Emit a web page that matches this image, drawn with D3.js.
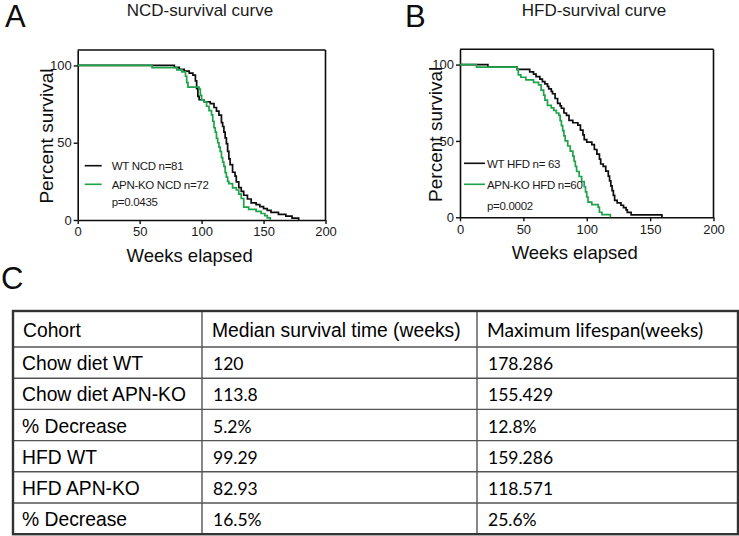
<!DOCTYPE html>
<html><head><meta charset="utf-8">
<script src="https://cdn.jsdelivr.net/npm/d3@7"></script>
<style>body{margin:0;background:#fff}svg{display:block}</style>
</head><body><svg id="c" width="739" height="536"></svg>
<script>
// ---------- data ----------
const xTicks = [0, 50, 100, 150, 200];
const yTicks = [0, 50, 100];

// Kaplan-Meier steps: [weeks, percent survival]
const ncdWT = [[0,100],[76,100],[78,98.8],[82,97.5],[86,96.3],[90,95.1],[93,93.8],[95,90],[96,85],[97,80],[98,77.8],[102,76.5],[107,75.3],[110,72.8],[112,70.4],[114,67.9],[116,63],[117,60.5],[118,56.8],[119,53.1],[120,49.4],[121,44.4],[122,39.5],[123,35.8],[125,30.9],[127,28.4],[128,24.7],[130,21],[132,18.5],[134,16],[137,13.6],[140,11.1],[144,9.9],[147,8.6],[150,7.4],[153,6.2],[156,4.9],[162,3.7],[168,2.5],[173,1.2],[178.3,0]];
const ncdKO = [[0,100],[60,98.6],[80,97.2],[84,95.8],[87,93],[88,88.9],[89,86],[98,84.7],[99,80.6],[100,77.8],[102,76.4],[104,73.6],[106,70.8],[108,68],[109,63.9],[110,59.7],[111,56.9],[112,52.8],[113,50],[114,47.2],[115,44.4],[116,40.3],[117,37.5],[118,34.7],[119,30.6],[120,27.8],[121,25],[122,23.6],[125,20.8],[128,19.4],[130,16.7],[132,13.9],[134,8.3],[138,6.9],[144,5.6],[148,4.2],[151,2.8],[153,1.4],[155.4,0]];
const hfdWT = [[0,100],[22,98.4],[45,96.8],[55,95.2],[58,93.7],[60,92.1],[63,90.5],[65,88.9],[67,87.3],[69,85.7],[70,84.1],[72,82.5],[73,80.9],[75,77.8],[77,74.6],[79,73],[80,71.4],[82,68.3],[84,66.7],[86,63.5],[89,61.9],[93,60.3],[95,57.1],[97,54],[98,50.8],[100,49.2],[104,47.6],[106,44.4],[108,41.3],[110,38.1],[111,34.9],[113,33.3],[115,30.2],[117,27],[118,23.8],[119,20.6],[120,17.5],[121,14.3],[122,11.1],[124,9.5],[127,7.9],[129,6.3],[131,4.8],[132,3.2],[135,1.6],[159.3,0]];
const hfdKO = [[0,100],[13,98.3],[45,96.7],[46,93.3],[48,91.7],[52,90],[58,88.3],[62,86.7],[64,83.3],[66,80],[67,76.7],[69,73.3],[72,71.7],[74,70],[76,68.3],[78,66.7],[79,63.3],[80,60],[81,56.7],[82,53.3],[83,50],[85,46.7],[87,43.3],[89,40],[90,36.7],[91,33.3],[92,30],[94,26.7],[96,23.3],[98,20],[99,16.7],[100,13.3],[101,10],[104,8.3],[109,6.7],[110,3.3],[112,1.7],[118.6,0]];

const panelLetters = ["A", "B", "C"];
const panelTitles = ["NCD-survival curve", "HFD-survival curve"];
const legendNCD = ["WT NCD n=81", "APN-KO NCD n=72"];
const legendHFD = ["WT HFD n= 63", "APN-KO HFD n=60"];
const pValues = ["p=0.0435", "p=0.0002"];
const xLabel = "Weeks elapsed";
const yLabel = "Percent survival";

const tableHeader = ["Cohort", "Median survival time (weeks)", "Maximum lifespan(weeks)"];
const cohorts = ["Chow diet WT", "Chow diet APN-KO", "% Decrease", "HFD WT", "HFD APN-KO", "% Decrease"];
const medianSurvival = ["120", "113.8", "5.2%", "99.29", "82.93", "16.5%"];
const maxLifespan = ["178.286", "155.429", "12.8%", "159.286", "118.571", "25.6%"];

// ---------- drawing ----------
const svg = d3.select("#c");
svg.append("rect").attr("width", 739).attr("height", 536).attr("fill", "#fff");
const SANS = "'Liberation Sans', Arial, sans-serif";
const BLACK = "#0d0d0d";
const GREEN = "#1fa34a";

const panels = [
  { letter: panelLetters[0], title: panelTitles[0], series: [ncdWT, ncdKO], legend: legendNCD, p: pValues[0],
    xr: [77.7, 325.5], yr: [220, 50], letterX: 5, titleX: 200, ylabX: 53,
    leg: { x1: 7, x2: 24, tx: 34, ly: [165.7, 184.3], ty: [170, 188.5, 205.5] } },
  { letter: panelLetters[1], title: panelTitles[1], series: [hfdWT, hfdKO], legend: legendHFD, p: pValues[1],
    xr: [460, 713.5], yr: [217.3, 49.3], letterX: 405, titleX: 594, ylabX: 442,
    leg: { x1: 4, x2: 25, tx: 27, ly: [163.3, 184.3], ty: [167.7, 188.7, 210] } }
];

panels.forEach(P => {
  const x = d3.scaleLinear().domain([0, 200]).range(P.xr);
  const y = d3.scaleLinear().domain([0, 110]).range(P.yr);
  const g = svg.append("g");

  // letter + title
  svg.append("text").attr("x", P.letterX).attr("y", 27).text(P.letter)
    .attr("font-family", SANS).attr("font-size", 31).attr("fill", BLACK);
  svg.append("text").attr("x", P.titleX).attr("y", 15.5).attr("text-anchor", "middle").text(P.title)
    .attr("font-family", SANS).attr("font-size", 17).attr("fill", "#1a1a1a");

  // axes
  const ax = g.append("g").attr("transform", `translate(0,${y(0)})`)
    .call(d3.axisBottom(x).tickValues(xTicks).tickSize(4).tickSizeOuter(0).tickPadding(3));
  const ay = g.append("g").attr("transform", `translate(${x(0)},0)`)
    .call(d3.axisLeft(y).tickValues(yTicks).tickSize(4).tickSizeOuter(0).tickPadding(2));
  [ax, ay].forEach(a => {
    a.select(".domain").attr("stroke", BLACK).attr("stroke-width", 1.6);
    a.selectAll(".tick line").attr("stroke", BLACK).attr("stroke-width", 1.4);
    a.selectAll(".tick text").attr("font-family", SANS).attr("font-size", 13).attr("fill", "#1a1a1a");
  });
  // box top/right
  g.append("line").attr("x1", x(0)).attr("x2", x(200)).attr("y1", y(110)).attr("y2", y(110))
    .attr("stroke", BLACK).attr("stroke-width", 1.6);
  g.append("line").attr("x1", x(200)).attr("x2", x(200)).attr("y1", y(0)).attr("y2", y(110))
    .attr("stroke", BLACK).attr("stroke-width", 1.6);

  // curves
  const line = d3.line().x(d => x(d[0])).y(d => y(d[1])).curve(d3.curveStepAfter);
  const colors = [BLACK, GREEN];
  P.series.forEach((s, i) => {
    g.append("path").datum(s).attr("d", line).attr("fill", "none")
      .attr("stroke", colors[i]).attr("stroke-width", 1.7);
  });

  // legend
  const L = P.leg, x0 = x(0);
  P.legend.forEach((t, i) => {
    g.append("line").attr("x1", x0 + L.x1).attr("x2", x0 + L.x2).attr("y1", L.ly[i]).attr("y2", L.ly[i])
      .attr("stroke", colors[i]).attr("stroke-width", 1.6);
    g.append("text").attr("x", x0 + L.tx).attr("y", L.ty[i]).text(t)
      .attr("font-family", SANS).attr("font-size", 11.5).attr("letter-spacing", -0.3).attr("fill", "#1a1a1a");
  });
  g.append("text").attr("x", x0 + L.tx).attr("y", L.ty[2]).text(P.p)
    .attr("font-family", SANS).attr("font-size", 11.5).attr("letter-spacing", -0.3).attr("fill", "#1a1a1a");

  // axis labels
  g.append("text").attr("x", (P.xr[0] + P.xr[1]) / 2 - 12).attr("y", y(0) + 42).attr("text-anchor", "middle")
    .text(xLabel).attr("font-family", SANS).attr("font-size", 18.5).attr("fill", BLACK);
  g.append("text").attr("transform", `translate(${P.ylabX},${(y(0) + y(110)) / 2 + 1}) rotate(-90)`)
    .attr("text-anchor", "middle").text(yLabel)
    .attr("font-family", SANS).attr("font-size", 19).attr("fill", BLACK);
});

// ---------- panel C ----------
svg.append("text").attr("x", 1).attr("y", 289).text(panelLetters[2])
  .attr("font-family", SANS).attr("font-size", 31).attr("fill", BLACK);

const colEdges = [13, 202, 477, 738];
const tableTop = 311, headerH = 36, rowH = 31.2;
const rowY = i => tableTop + headerH + i * rowH;
const tg = svg.append("g");
const LATO = "Lato, 'Open Sans', sans-serif";

// header
tableHeader.forEach((h, j) => {
  tg.append("text").attr("x", colEdges[j] + 10).attr("y", tableTop + headerH / 2 + 7.5).text(h)
    .attr("font-family", j === 2 ? LATO : SANS).attr("font-size", j === 2 ? 19.2 : 19.3).attr("fill", "#000");
});
const cols = [cohorts, medianSurvival, maxLifespan];
cohorts.forEach((c, i) => {
  cols.forEach((col, j) => {
    tg.append("text").attr("x", colEdges[j] + (j === 0 ? 9 : 11)).attr("y", rowY(i) + rowH / 2 + 7.5).text(col[i])
      .attr("font-family", j === 0 ? SANS : LATO).attr("font-size", j === 0 ? 19.3 : 17.5)
      .attr("fill", "#000");
  });
});
// inner lines
d3.range(cohorts.length).forEach(i => {
  tg.append("line").attr("x1", colEdges[0]).attr("x2", colEdges[3]).attr("y1", rowY(i)).attr("y2", rowY(i))
    .attr("stroke", "#555").attr("stroke-width", 1.4);
});
[1, 2].forEach(j => {
  tg.append("line").attr("x1", colEdges[j]).attr("x2", colEdges[j]).attr("y1", tableTop).attr("y2", rowY(cohorts.length))
    .attr("stroke", "#555").attr("stroke-width", 1.4);
});
tg.append("rect").attr("x", colEdges[0]).attr("y", tableTop)
  .attr("width", colEdges[3] - colEdges[0]).attr("height", rowY(cohorts.length) - tableTop)
  .attr("fill", "none").attr("stroke", "#333").attr("stroke-width", 2.4);
</script></body></html>
